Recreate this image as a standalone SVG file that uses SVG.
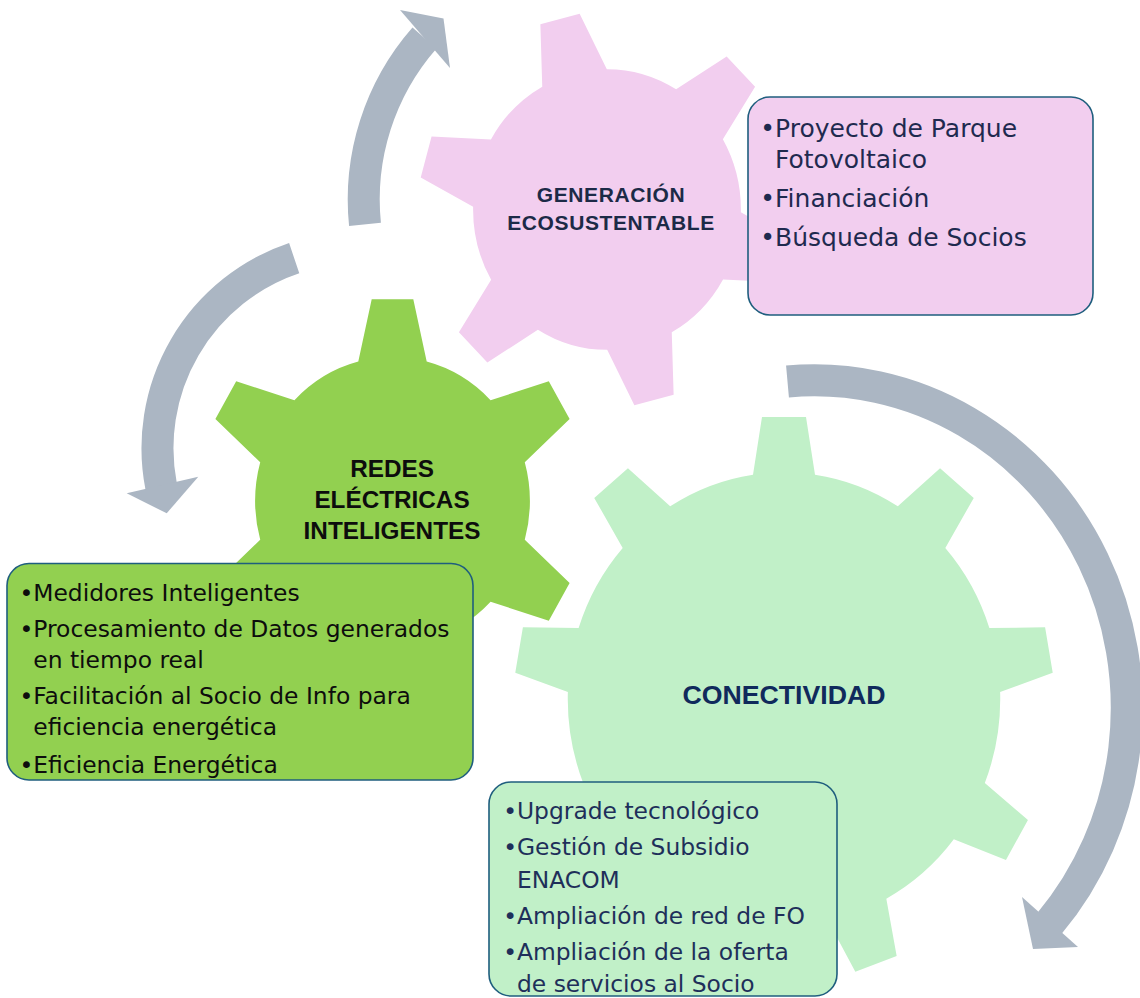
<svg xmlns="http://www.w3.org/2000/svg" xmlns:xlink="http://www.w3.org/1999/xlink" width="1140" height="998" viewBox="0 0 1140 998">
<style>
.arc{fill:none;stroke:#ABB6C3;stroke-width:32;stroke-linecap:butt}
.head{fill:#ABB6C3}
.box{stroke:#1F5E7E;stroke-width:1.6}
.title{font-family:"Liberation Sans",Arial,sans-serif;font-weight:bold;text-anchor:middle}
.item{font-family:"DejaVu Sans",sans-serif;font-size:23.4px}
</style>
<defs>
<path id="gear6" d="M -34.2,-133 L -20.8,-192.5 L 20.8,-192.5 L 34.2,-133 A 137.3 137.3 0 0 1 98.08,-96.12 L 156.31,-114.26 L 177.11,-78.24 L 132.28,-36.88 A 137.3 137.3 0 0 1 132.28,36.88 L 177.11,78.24 L 156.31,114.26 L 98.08,96.12 A 137.3 137.3 0 0 1 34.2,133 L 20.8,192.5 L -20.8,192.5 L -34.2,133 A 137.3 137.3 0 0 1 -98.08,96.12 L -156.31,114.26 L -177.11,78.24 L -132.28,36.88 A 137.3 137.3 0 0 1 -132.28,-36.88 L -177.11,-78.24 L -156.31,-114.26 L -98.08,-96.12 A 137.3 137.3 0 0 1 -34.2,-133 Z"/>
<path id="gear9" d="M -31,-214 L -22,-269 L 22,-269 L 31,-214 A 216.2 216.2 0 0 1 113.81,-183.85 L 156.06,-220.19 L 189.76,-191.91 L 161.31,-143.99 A 216.2 216.2 0 0 1 205.37,-67.68 L 261.09,-68.37 L 268.73,-25.03 L 216.13,-6.62 A 216.2 216.2 0 0 1 200.82,80.15 L 243.95,115.45 L 221.95,153.55 L 169.82,133.85 A 216.2 216.2 0 0 1 102.32,190.5 L 112.67,245.26 L 71.33,260.3 L 44.06,211.7 A 216.2 216.2 0 0 1 -44.06,211.7 L -71.33,260.3 L -112.67,245.26 L -102.32,190.5 A 216.2 216.2 0 0 1 -169.82,133.85 L -221.95,153.55 L -243.95,115.45 L -200.82,80.15 A 216.2 216.2 0 0 1 -216.13,-6.62 L -268.73,-25.03 L -261.09,-68.37 L -205.37,-67.68 A 216.2 216.2 0 0 1 -161.31,-143.99 L -189.76,-191.91 L -156.06,-220.19 L -113.81,-183.85 A 216.2 216.2 0 0 1 -31,-214 Z"/>
</defs>
<rect width="1140" height="998" fill="#FFFFFF"/>
<g id="connectors">
<path class="arc" d="M 365.0,224.4 A 245 245 0 0 1 424.5,38.0"/>
<polygon class="head" points="400,10 443.5,18.5 450,68"/>
<path class="arc" d="M 294.2,258.2 A 200.5 200.5 0 0 0 161.2,486.8"/>
<polygon class="head" points="126.7,493.3 166.7,513.3 198.3,476.7"/>
<path class="arc" d="M 787.5,381.5 A 312.5 327.5 0 0 1 1049,924"/>
<polygon class="head" points="1022,897 1033,949 1078,947"/>
</g>
<g id="gear-generacion">
<use xlink:href="#gear6" href="#gear6" fill="#F2CEEF" transform="translate(607,209.5) scale(0.975,1.022) rotate(-14.5)"/>
<text class="title" fill="#1C2A47" font-size="21" letter-spacing="0.6" x="611" y="202">GENERACIÓN</text>
<text class="title" fill="#1C2A47" font-size="21" letter-spacing="0.6" x="611" y="230">ECOSUSTENTABLE</text>
</g>
<g id="gear-redes">
<use xlink:href="#gear6" href="#gear6" fill="#92D050" transform="translate(392.5,501) scale(1,1.048)"/>
<text class="title" fill="#0D0D0D" font-size="24.3" x="392" y="477">REDES</text>
<text class="title" fill="#0D0D0D" font-size="24.3" x="392" y="508">ELÉCTRICAS</text>
<text class="title" fill="#0D0D0D" font-size="24.3" x="392" y="539">INTELIGENTES</text>
</g>
<g id="gear-conectividad">
<use xlink:href="#gear9" href="#gear9" fill="#C1F0C8" transform="translate(784,699) scale(1,1.048)"/>
<text class="title" fill="#102A5C" font-size="26.7" x="784" y="704">CONECTIVIDAD</text>
</g>
<g id="box-generacion">
<rect class="box" x="748" y="97" width="345" height="218" rx="22" fill="#F2CEEF"/>
<g class="item" fill="#1F2A4F" style="font-size:25px">
<text x="760.3" y="137">•Proyecto de Parque</text>
<text x="775" y="168">Fotovoltaico</text>
<text x="760.3" y="207">•Financiación</text>
<text x="760.3" y="246">•Búsqueda de Socios</text>
</g>
</g>
<g id="box-redes">
<rect class="box" x="7" y="563.5" width="466" height="216.5" rx="22" fill="#92D050"/>
<g class="item" fill="#0D0D0D">
<text x="19.5" y="601">•Medidores Inteligentes</text>
<text x="19.5" y="637">•Procesamiento de Datos generados</text>
<text x="33.3" y="668">en tiempo real</text>
<text x="19.5" y="704">•Facilitación al Socio de Info para</text>
<text x="33.3" y="735">eficiencia energética</text>
<text x="19.5" y="773">•Eficiencia Energética</text>
</g>
</g>
<g id="box-conectividad">
<rect class="box" x="489" y="782" width="348" height="214" rx="22" fill="#C1F0C8"/>
<g class="item" fill="#1E2F5A">
<text x="503.2" y="819">•Upgrade tecnológico</text>
<text x="503.2" y="855">•Gestión de Subsidio</text>
<text x="517" y="887.5">ENACOM</text>
<text x="503.2" y="924">•Ampliación de red de FO</text>
<text x="503.2" y="960">•Ampliación de la oferta</text>
<text x="517" y="992">de servicios al Socio</text>
</g>
</g>
</svg>
